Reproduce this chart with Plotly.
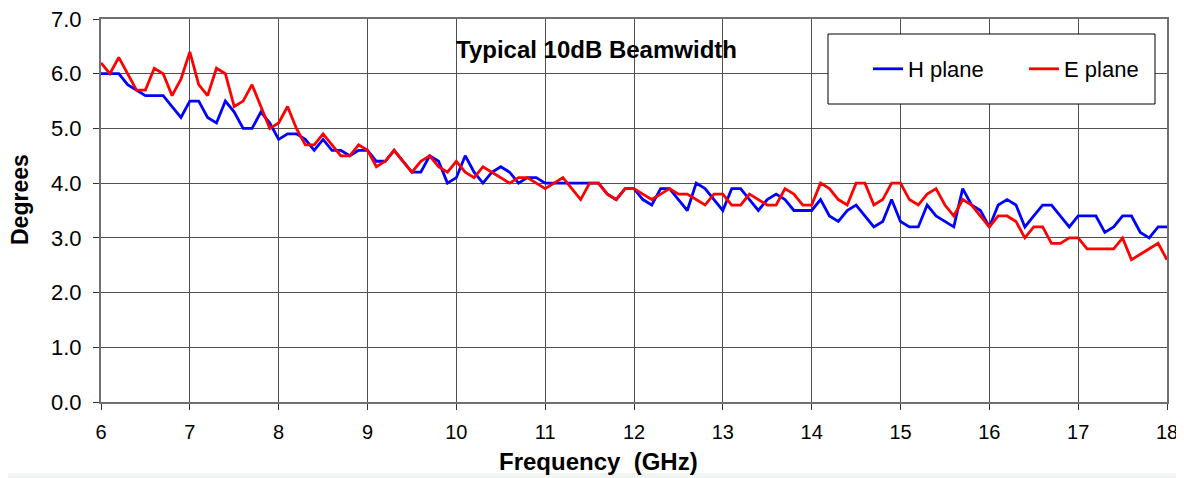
import plotly.graph_objects as go

freq = [round(6 + 0.1 * i, 1) for i in range(121)]

h_plane = [
    6.0, 6.0, 6.0, 5.8, 5.7, 5.6, 5.6, 5.6, 5.4, 5.2,
    5.5, 5.5, 5.2, 5.1, 5.5, 5.3, 5.0, 5.0, 5.3, 5.1,
    4.8, 4.9, 4.9, 4.8, 4.6, 4.8, 4.6, 4.6, 4.5, 4.6,
    4.6, 4.4, 4.4, 4.6, 4.4, 4.2, 4.2, 4.5, 4.4, 4.0,
    4.1, 4.5, 4.2, 4.0, 4.2, 4.3, 4.2, 4.0, 4.1, 4.1,
    4.0, 4.0, 4.0, 4.0, 4.0, 4.0, 4.0, 3.8, 3.7, 3.9,
    3.9, 3.7, 3.6, 3.9, 3.9, 3.7, 3.5, 4.0, 3.9, 3.7,
    3.5, 3.9, 3.9, 3.7, 3.5, 3.7, 3.8, 3.7, 3.5, 3.5,
    3.5, 3.7, 3.4, 3.3, 3.5, 3.6, 3.4, 3.2, 3.3, 3.7,
    3.3, 3.2, 3.2, 3.6, 3.4, 3.3, 3.2, 3.9, 3.6, 3.5,
    3.2, 3.6, 3.7, 3.6, 3.2, 3.4, 3.6, 3.6, 3.4, 3.2,
    3.4, 3.4, 3.4, 3.1, 3.2, 3.4, 3.4, 3.1, 3.0, 3.2,
    3.2,
]

e_plane = [
    6.2, 6.0, 6.3, 6.0, 5.7, 5.7, 6.1, 6.0, 5.6, 5.9,
    6.4, 5.8, 5.6, 6.1, 6.0, 5.4, 5.5, 5.8, 5.4, 5.0,
    5.1, 5.4, 5.0, 4.7, 4.7, 4.9, 4.7, 4.5, 4.5, 4.7,
    4.6, 4.3, 4.4, 4.6, 4.4, 4.2, 4.4, 4.5, 4.3, 4.2,
    4.4, 4.2, 4.1, 4.3, 4.2, 4.1, 4.0, 4.1, 4.1, 4.0,
    3.9, 4.0, 4.1, 3.9, 3.7, 4.0, 4.0, 3.8, 3.7, 3.9,
    3.9, 3.8, 3.7, 3.8, 3.9, 3.8, 3.8, 3.7, 3.6, 3.8,
    3.8, 3.6, 3.6, 3.8, 3.7, 3.6, 3.6, 3.9, 3.8, 3.6,
    3.6, 4.0, 3.9, 3.7, 3.6, 4.0, 4.0, 3.6, 3.7, 4.0,
    4.0, 3.7, 3.6, 3.8, 3.9, 3.6, 3.4, 3.7, 3.6, 3.4,
    3.2, 3.4, 3.4, 3.3, 3.0, 3.2, 3.2, 2.9, 2.9, 3.0,
    3.0, 2.8, 2.8, 2.8, 2.8, 3.0, 2.6, 2.7, 2.8, 2.9,
    2.6,
]

x_ticks = list(range(6, 19))
y_ticks = [0, 1, 2, 3, 4, 5, 6, 7]
y_tick_text = ["0.0", "1.0", "2.0", "3.0", "4.0", "5.0", "6.0", "7.0"]

FONT = "Liberation Sans, Arial, sans-serif"

# The page body has an 8px margin, so the figure is drawn 8px in from the
# top-left corner of the window; size and margins compensate for that.
OFF = 8
W, H = 1184 - OFF, 478 - OFF
L, R, T, B = 101 - OFF, 17, 19 - OFF, 76
PW, PH = W - L - R, H - T - B


def px(x_screen):
    return (x_screen - OFF - L) / PW


def py(y_screen):
    return (OFF + H - B - y_screen) / PH


fig = go.Figure()
fig.add_trace(go.Scatter(x=freq, y=h_plane, mode="lines", name="H plane",
                         line=dict(color="#0000FF", width=2.8)))
fig.add_trace(go.Scatter(x=freq, y=e_plane, mode="lines", name="E plane",
                         line=dict(color="#FF0000", width=2.8)))

fig.update_layout(
    width=W, height=H,
    margin=dict(l=L, r=R, t=T, b=B, autoexpand=False),
    paper_bgcolor="white", plot_bgcolor="white",
    font=dict(family=FONT, size=19, color="black"),
    showlegend=True,
    legend=dict(
        orientation="h",
        x=px(868), xanchor="left",
        y=py(69), yanchor="middle",
        bgcolor="rgba(0,0,0,0)",
        borderwidth=0,
        font=dict(size=22, family=FONT),
        entrywidth=111,
    ),
    xaxis=dict(
        range=[6, 18], tickvals=x_ticks, ticktext=[str(v) for v in x_ticks],
        showgrid=True, gridcolor="#505050", gridwidth=1,
        showline=True, linecolor="#707070", linewidth=2, mirror=True,
        ticks="outside", ticklen=6, tickcolor="#333", tickwidth=1,
        ticklabelstandoff=5, ticklabeloverflow="allow",
        zeroline=False, tickfont=dict(size=20),
    ),
    yaxis=dict(
        range=[0, 7], tickvals=y_ticks, ticktext=y_tick_text,
        showgrid=True, gridcolor="#505050", gridwidth=1,
        showline=True, linecolor="#707070", linewidth=2, mirror=True,
        ticks="outside", ticklen=6, tickcolor="#333", tickwidth=1,
        ticklabelstandoff=7, ticklabeloverflow="allow",
        zeroline=False, tickfont=dict(size=22),
    ),
    shapes=[
        dict(type="rect", xref="paper", yref="paper",
             x0=px(828), x1=px(1155), y0=py(104), y1=py(34),
             line=dict(color="black", width=1), fillcolor="white", layer="above"),
        dict(type="rect", xref="paper", yref="paper",
             x0=px(0), x1=px(1184), y0=py(478), y1=py(473),
             line=dict(width=0), fillcolor="#f1f5f1", layer="below"),
    ],
    annotations=[
        dict(text="<b>Typical 10dB Beamwidth</b>", xref="paper", yref="paper",
             x=px(596), y=py(50), showarrow=False,
             xanchor="center", yanchor="middle", font=dict(size=24)),
        dict(text="<b>Frequency \u00a0(GHz)</b>", xref="paper", yref="paper",
             x=px(598), y=py(461), showarrow=False,
             xanchor="center", yanchor="middle", font=dict(size=24)),
        dict(text="<b>Degrees</b>", xref="paper", yref="paper",
             x=px(20), y=py(200), showarrow=False,
             textangle=-90, xanchor="center", yanchor="middle", font=dict(size=23)),
    ],
)

fig.write_html("out.html")
